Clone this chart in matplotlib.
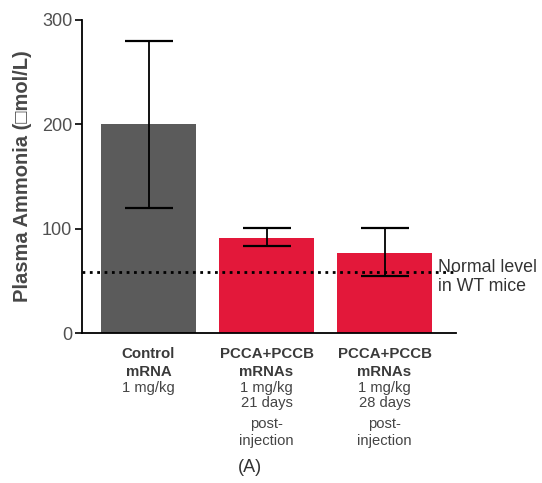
import matplotlib
matplotlib.use("Agg")
import matplotlib.pyplot as plt
import numpy as np

plt.rcParams['font.family'] = ['Liberation Sans', 'DejaVu Sans']

# data
groups = ["Control", "PCCA+PCCB 21d", "PCCA+PCCB 28d"]
means = [200, 91, 77]
err_low = [120, 83, 55]
err_high = [280, 101, 101]
normal_level = 58
bold_lines = [["Control", "mRNA"], ["PCCA+PCCB", "mRNAs"], ["PCCA+PCCB", "mRNAs"]]
plain_lines = [["1 mg/kg"],
               ["1 mg/kg", "21 days", "post-", "injection"],
               ["1 mg/kg", "28 days", "post-", "injection"]]
bar_colors = ["#5b5b5b", "#e3183a", "#e3183a"]

fig = plt.figure(figsize=(5.42, 4.83), dpi=100)
ax = fig.add_axes([82/542, 1 - 333/483, (456 - 82)/542, (333 - 20)/483])

x = np.arange(len(groups))
means_a = np.array(means)
yerr = [means_a - np.array(err_low), np.array(err_high) - means_a]
ax.bar(x, means, width=0.8, color=bar_colors, zorder=1)
ax.errorbar(x, means, yerr=yerr, fmt='none', ecolor='black', elinewidth=1.3,
            capsize=17, capthick=1.6, zorder=3)
ax.axhline(normal_level, color='black', linestyle=':', linewidth=2, zorder=4)

ax.set_xlim(-0.564, 2.606)
ax.set_ylim(0, 300)
ax.set_yticks([0, 100, 200, 300])
ax.set_xticks([])
ax.tick_params(axis='y', length=5, width=1.2, labelsize=13, labelcolor='#505050', pad=2)
for s in ['top', 'right']:
    ax.spines[s].set_visible(False)
for s in ['left', 'bottom']:
    ax.spines[s].set_linewidth(1.3)

ax.set_ylabel("Plasma Ammonia (\u25a1mol/L)", fontsize=14.5, fontweight='bold',
              color='#474747')
ax.yaxis.set_label_coords(-(82 - 32) / 374, 0.5)

# category labels below the axis
px = 1.0 / 1.043  # data units per pixel on y
bold_y = [354, 372]
plain_y = [388, 403, 424, 441]
for i in range(len(groups)):
    for line, yy in zip(bold_lines[i], bold_y):
        ax.text(x[i], (333 - yy) * px, line, ha='center', va='center', fontsize=10.8,
                fontweight='bold', color='#3a3a3a', clip_on=False)
    for line, yy in zip(plain_lines[i], plain_y):
        ax.text(x[i], (333 - yy) * px, line, ha='center', va='center', fontsize=10.6,
                color='#444444', clip_on=False)

ax.text(2.45, (333 - 277) * px, "Normal level\nin WT mice", ha='left', va='center',
        fontsize=12.8, color='#333333', linespacing=1.2, clip_on=False)

fig.text(250/542, 1 - 467/483, "(A)", ha='center', va='center', fontsize=13, color='#333333')

fig.savefig("out.png", dpi=100)
